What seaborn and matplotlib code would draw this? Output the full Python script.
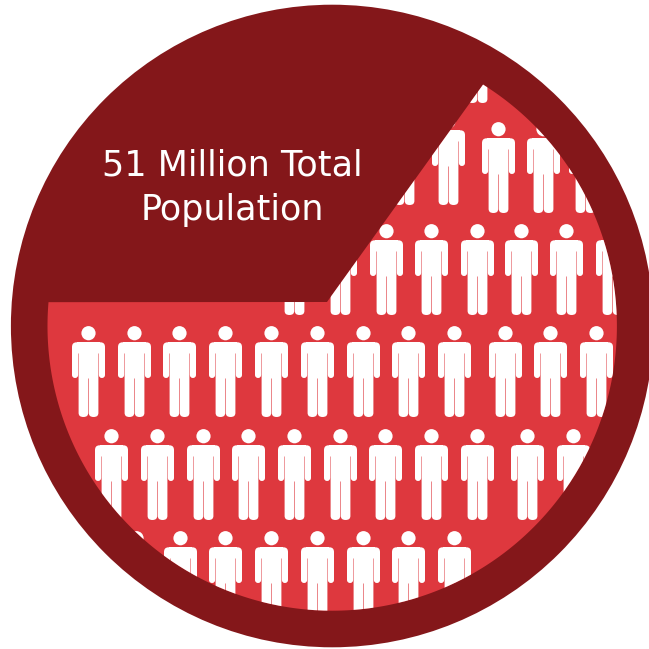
import numpy as np
import pandas as pd
import matplotlib
matplotlib.use("Agg")
import matplotlib.pyplot as plt
from matplotlib.patches import Circle, PathPatch
from matplotlib.path import Path
import seaborn as sns

# Head-centre height of each row of people and the x position of each person
row_heads = [19, 121, 129, 231, 333, 436, 538]
row_people = [
    [478],
    [405, 449],
    [499, 544, 586],
    [295, 341, 387, 432, 478, 522, 567, 613],
    [89, 135, 180, 226, 272, 318, 364, 409, 455, 506, 551, 597],
    [112, 158, 204, 249, 295, 341, 386, 432, 478, 528, 574],
    [137, 181, 226, 272, 318, 364, 409, 455],
]
title_lines = ["51 Million Total", "Population"]

DARK = "#84171A"
RED = "#DE383E"
SIZE = 649
CENTER = (332.2, 326)
OUTER_R = 321.3
INNER_R = 284.7
APEX = (327, 302)
ARC_DEG = (-58.0, 184.8)
PERSON_H = 91.0
HEAD_R = 7.1
X_SHIFT = -1.0


def person_marker():
    """White standing figure, y up, centred so the height spans the marker size."""
    verts, codes = [], []

    def move(p):
        verts.append(p); codes.append(Path.MOVETO)

    def line(p):
        verts.append(p); codes.append(Path.LINETO)

    def curve(c, p):
        verts.extend([c, p]); codes.extend([Path.CURVE3, Path.CURVE3])

    # Left half of the body, listed in depth below the top of the head
    half = [
        ("m", (0, 16.3)),
        ("l", (-12, 16.3)),
        ("c", (-16.5, 16.3), (-16.5, 21)),
        ("l", (-16.5, 49)),
        ("c", (-16.5, 52), (-13.4, 52)),
        ("c", (-10.4, 52), (-10.4, 49)),
        ("l", (-10.4, 27.5)),
        ("l", (-9.9, 27.5)),
        ("l", (-9.9, 87)),
        ("c", (-9.9, 91), (-5.1, 91)),
        ("c", (-0.3, 91), (-0.3, 87)),
        ("l", (-0.3, 52.5)),
        ("l", (0, 52.5)),
    ]
    flip = lambda p: (p[0], PERSON_H / 2 - p[1])
    mirror = lambda p: (-p[0], PERSON_H / 2 - p[1])
    for seg in half:
        if seg[0] == "m":
            move(flip(seg[1]))
        elif seg[0] == "l":
            line(flip(seg[1]))
        else:
            curve(flip(seg[1]), flip(seg[2]))
    # Right half walks the same outline back up to the shoulders
    pts = [seg for seg in half]
    for i in range(len(pts) - 1, 0, -1):
        prev_end = pts[i - 1][-1]
        seg = pts[i]
        if seg[0] == "l":
            line(mirror(prev_end))
        else:
            curve(mirror(seg[1]), mirror(prev_end))
    verts.append(flip((0, 16.3))); codes.append(Path.CLOSEPOLY)
    body = Path(verts, codes)
    head = Path.circle((0, PERSON_H / 2 - 7.2), HEAD_R)
    return Path.make_compound_path(body, head)


sns.set_style("white")
plt.rcParams["font.family"] = ["DejaVu Sans"]

fig = plt.figure(figsize=(SIZE / 100, SIZE / 100), dpi=100, facecolor="white")
ax = fig.add_axes([0, 0, 1, 1])
ax.set_xlim(0, SIZE)
ax.set_ylim(SIZE, 0)
ax.axis("off")

# Dark disc with the red slice cut from the inner circle
ax.add_patch(Circle(CENTER, OUTER_R, facecolor=DARK, edgecolor="none", zorder=1))
theta = np.radians(np.linspace(ARC_DEG[0], ARC_DEG[1], 400))
arc = np.column_stack([CENTER[0] + INNER_R * np.cos(theta),
                       CENTER[1] + INNER_R * np.sin(theta)])
slice_path = Path(np.vstack([arc, APEX, arc[0]]))
red_slice = PathPatch(slice_path, facecolor=RED, edgecolor="none", zorder=2)
ax.add_patch(red_slice)

people = pd.DataFrame(
    [(x + X_SHIFT, head + PERSON_H / 2 - 7.2) for head, xs in zip(row_heads, row_people) for x in xs],
    columns=["x", "y"],
)
# Marker size is in points squared; the figure height maps onto the marker box
size_pt = PERSON_H * 72 / fig.dpi
sns.scatterplot(data=people, x="x", y="y", marker=person_marker(), s=size_pt ** 2,
                color="white", linewidth=0, ax=ax, legend=False, zorder=3)
ax.collections[-1].set_clip_path(red_slice)
ax.set_xlim(0, SIZE)
ax.set_ylim(SIZE, 0)
ax.axis("off")

for line_text, base in zip(title_lines, (175, 220)):
    ax.text(232, base, line_text, color="white", fontsize=25.2, ha="center",
            va="baseline", zorder=4)

fig.savefig("out.png", dpi=100, facecolor="white")
